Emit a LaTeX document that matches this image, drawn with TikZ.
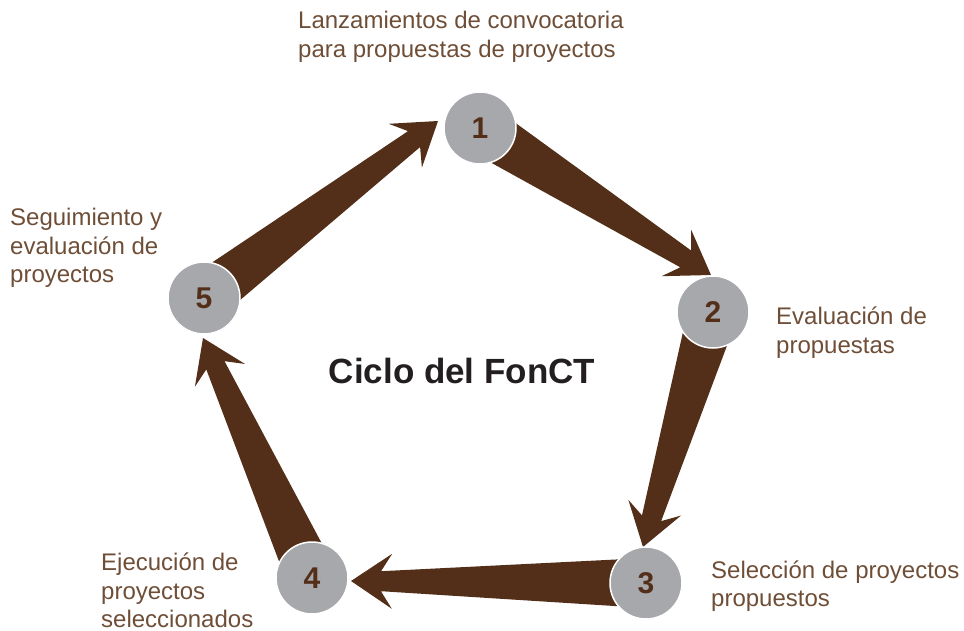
\documentclass[tikz,border=0pt]{standalone}
\usepackage{fontspec}
\setmainfont{Liberation Sans}
\usepackage{tikz}
\usetikzlibrary{calc}

\definecolor{cafe}{HTML}{532E18}
\definecolor{cafetexto}{HTML}{6F4E37}
\definecolor{gris}{HTML}{A7A8AC}
\definecolor{titulo}{HTML}{231F20}

\newcommand{\flecha}[2]{%
\fill[cafe] ($(#1)!25pt!90:(#2)$)
 -- ($($(#2)!30pt!(#1)$)!10pt!90:(#2)$)
 -- ($($(#2)!41pt!(#1)$)!27.5pt!90:(#2)$)
 -- (#2)
 -- ($($(#2)!41pt!(#1)$)!27.5pt!-90:(#2)$)
 -- ($($(#2)!30pt!(#1)$)!10pt!-90:(#2)$)
 -- ($(#1)!25pt!-90:(#2)$) -- cycle;}

\begin{document}
\begin{tikzpicture}[x=1pt, y=-1pt,
  paso/.style={circle, fill=gris, draw=white, line width=1.5pt, minimum size=72pt, inner sep=0pt,
    text=cafe, font=\fontsize{30}{30}\selectfont\bfseries},
  etiqueta/.style={anchor=base west, inner sep=0pt, align=left, text=cafetexto,
    font=\fontsize{24}{28.5}\selectfont}]
\useasboundingbox (0,0) rectangle (964,631);

\coordinate (c1) at (480,128);
\coordinate (c2) at (713,312);
\coordinate (c3) at (646,583);
\coordinate (c4) at (312,578);
\coordinate (c5) at (204,298);

\coordinate (t2) at ($(c2)+(-2,-37)$);
\coordinate (t3) at ($(c3)+(-3,-36)$);
\coordinate (t4) at ($(c4)+(39,3)$);
\coordinate (t5) at ($(c5)+(-1,40)$);
\coordinate (t1) at ($(c1)+(-42,-7)$);

\flecha{c1}{t2}
\flecha{c2}{t3}
\flecha{c3}{t4}
\flecha{c4}{t5}
\flecha{c5}{t1}

\node[paso] (n1) at (c1) {1};
\node[paso] (n2) at (c2) {2};
\node[paso] (n3) at (c3) {3};
\node[paso] (n4) at (c4) {4};
\node[paso] (n5) at (c5) {5};

\node[etiqueta] (e1) at (298,57.5) {Lanzamientos de convocatoria\\para propuestas de proyectos};
\node[etiqueta] (e2) at (776,353.3) {Evaluación de\\propuestas};
\node[etiqueta] (e3) at (711,606.7) {Selección de proyectos\\propuestos};
\node[etiqueta] (e4) at (101,627.5) {Ejecución de\\proyectos\\seleccionados};
\node[etiqueta] (e5) at (10,283) {Seguimiento y\\evaluación de\\proyectos};

\node[anchor=base, inner sep=0pt, text=titulo, font=\fontsize{35}{35}\selectfont\bfseries] (ciclo) at (462,383) {Ciclo del FonCT};
\end{tikzpicture}
\end{document}
